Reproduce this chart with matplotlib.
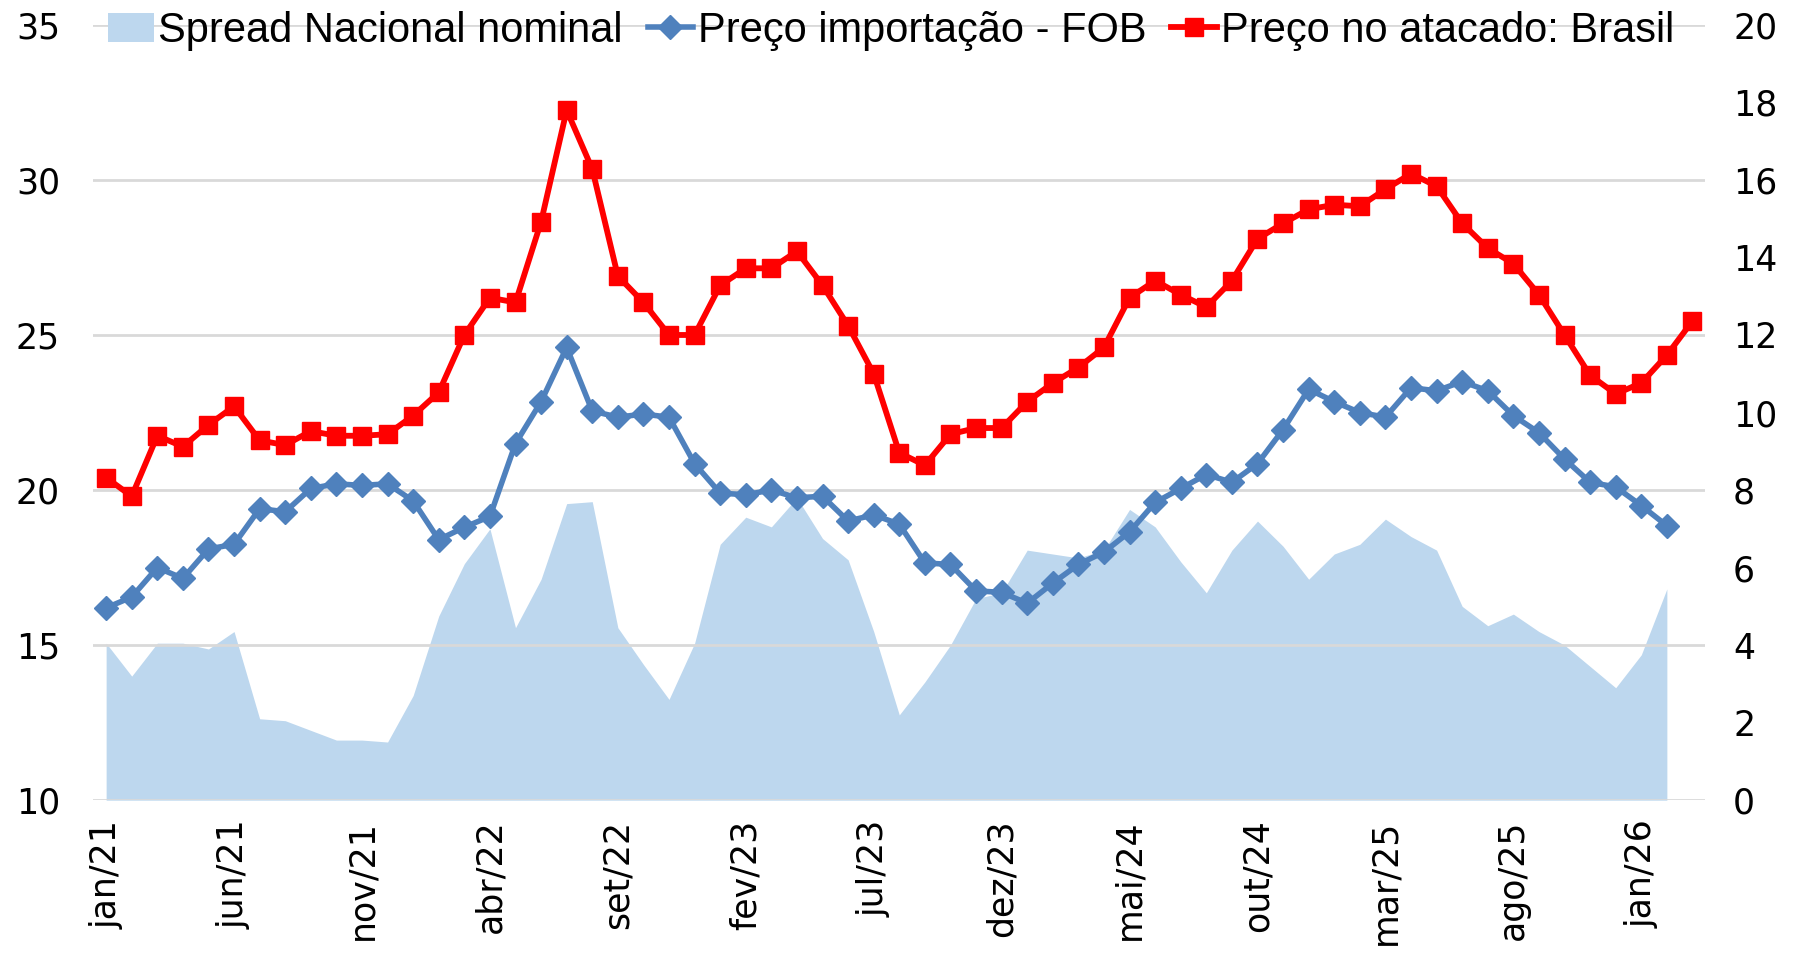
import matplotlib
matplotlib.use("Agg")
import matplotlib.pyplot as plt
import numpy as np
from matplotlib.patches import Patch
from matplotlib.lines import Line2D

# monthly series, jan/21 .. mar/26
months_pt = ["jan", "fev", "mar", "abr", "mai", "jun", "jul", "ago", "set", "out", "nov", "dez"]
labels = [f"{months_pt[i % 12]}/{21 + i // 12}" for i in range(63)]

preco_atacado = [20.4, 19.8, 21.75, 21.4, 22.1, 22.7, 21.6, 21.45, 21.9, 21.75,
                 21.75, 21.8, 22.4, 23.15, 25.0, 26.2, 26.05, 28.65, 32.25, 30.35,
                 26.9, 26.05, 25.0, 25.0, 26.6, 27.15, 27.15, 27.7, 26.6, 25.3,
                 23.75, 21.2, 20.8, 21.8, 22.0, 22.0, 22.85, 23.45, 23.95, 24.6,
                 26.2, 26.75, 26.3, 25.9, 26.75, 28.1, 28.6, 29.05, 29.2, 29.15,
                 29.7, 30.2, 29.8, 28.6, 27.8, 27.3, 26.3, 25.0, 23.7, 23.1,
                 23.45, 24.35, 25.45]

preco_fob = [16.2, 16.55, 17.5, 17.15, 18.1, 18.25, 19.4, 19.3, 20.05, 20.2,
             20.15, 20.2, 19.65, 18.4, 18.8, 19.15, 21.5, 22.85, 24.6, 22.55,
             22.35, 22.45, 22.35, 20.85, 19.9, 19.85, 20.0, 19.75, 19.8, 19.0,
             19.2, 18.9, 17.65, 17.6, 16.75, 16.7, 16.35, 17.0, 17.6, 18.0,
             18.65, 19.6, 20.05, 20.5, 20.25, 20.85, 21.95, 23.25, 22.85, 22.5,
             22.35, 23.3, 23.2, 23.5, 23.2, 22.4, 21.85, 21.0, 20.25, 20.1,
             19.5, 18.85]

spread = [4.05, 3.2, 4.05, 4.05, 3.9, 4.35, 2.1, 2.05, 1.8, 1.55,
          1.55, 1.5, 2.7, 4.75, 6.1, 7.0, 4.45, 5.7, 7.65, 7.7,
          4.45, 3.5, 2.6, 4.05, 6.6, 7.3, 7.05, 7.8, 6.75, 6.2,
          4.35, 2.2, 3.05, 4.0, 5.2, 5.35, 6.45, 6.35, 6.25, 6.45,
          7.5, 7.05, 6.15, 5.35, 6.45, 7.2, 6.55, 5.7, 6.35, 6.6,
          7.25, 6.8, 6.45, 5.0, 4.5, 4.8, 4.35, 4.0, 3.45, 2.9,
          3.75, 5.45]

RED = "#FF0000"
BLUE = "#4F81BD"
AREA = "#BDD7EE"
GRID = "#D9D9D9"

tick_font = "DejaVu Sans"
legend_font = ["Liberation Sans Narrow", "Liberation Sans", "DejaVu Sans"]

fig = plt.figure(figsize=(17.95, 9.56), dpi=100)
ax = fig.add_axes([0.052, 0.163, 0.898, 0.811])   # area, right-hand scale
ax2 = ax.twinx()                                  # lines, left-hand scale

x_area = np.arange(len(spread))
ax.fill_between(x_area, 0, spread, color=AREA, linewidth=0)
ax.set_ylim(0, 20)
ax.set_yticks(range(0, 21, 2))
ax.yaxis.tick_right()
ax.yaxis.set_label_position("right")

ax2.yaxis.tick_left()
ax2.set_ylim(10, 35)
ax2.set_yticks(range(10, 36, 5))
ax2.grid(axis="y", color=GRID, linewidth=2)
ax2.set_axisbelow(True)
ax2.plot(np.arange(len(preco_fob)), preco_fob, color=BLUE, lw=4,
         marker="D", markersize=12, zorder=3)
ax2.plot(np.arange(len(preco_atacado)), preco_atacado, color=RED, lw=4.2,
         marker="s", markersize=13, zorder=4)

for a in (ax, ax2):
    for s in a.spines.values():
        s.set_visible(False)
    a.tick_params(length=0, labelsize=25)
    for t in a.get_yticklabels():
        t.set_fontfamily(tick_font)

ax.set_xlim(-0.5, len(labels) - 0.5)
ax.set_xticks(range(0, len(labels), 5))
ax.set_xticklabels(labels[::5], rotation=90, fontsize=25, fontfamily=tick_font)
ax.tick_params(axis="x", pad=14)
ax.tick_params(axis="y", pad=20)
ax2.tick_params(axis="y", pad=24)

handles = [
    Patch(facecolor=AREA, edgecolor="none"),
    Line2D([], [], color=BLUE, lw=4, marker="D", markersize=12),
    Line2D([], [], color=RED, lw=4.2, marker="s", markersize=13),
]
names = ["Spread Nacional nominal", "Preço importação - FOB", "Preço no atacado: Brasil"]
ax2.legend(handles, names, loc="center", bbox_to_anchor=(0.495, 0.992), ncol=3,
           frameon=False, handlelength=1.1, handletextpad=0.1, columnspacing=0.6,
           prop={"family": legend_font, "size": 30})

fig.savefig("out.png", dpi=100)
